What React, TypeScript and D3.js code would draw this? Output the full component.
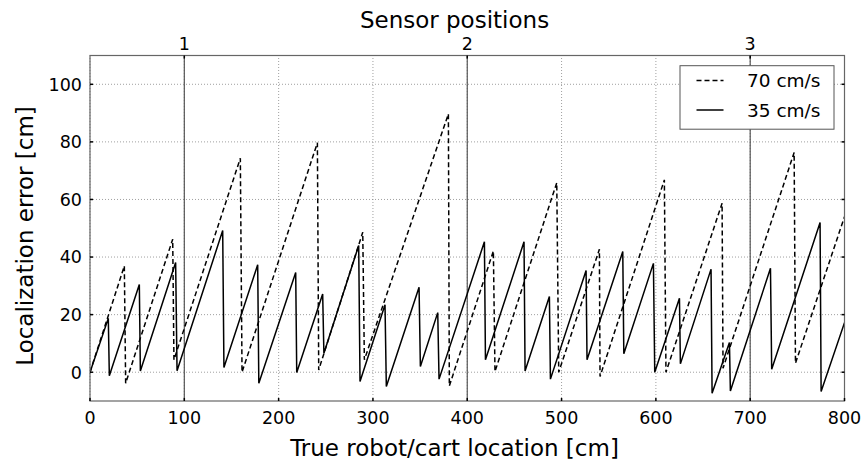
import React, { useEffect, useRef } from 'react';
import * as d3 from 'd3';

// localization error readings, [true location cm, error cm]
const fast70 = [
  [0, 0], [36.4, 36.9], [37.8, -3.8], [87.7, 46.2], [89, 4.3], [159.4, 74.3], [161.2, 0],
  [241.1, 79.7], [242.5, 0.8], [289.2, 48.6], [290.9, 4.3], [380, 89.7], [381, -4.8],
  [427.7, 42.1], [429.4, 0.2], [494.9, 65.8], [497, 0], [540.1, 42.7], [540.8, -1.5],
  [609, 66.8], [610.7, 0], [670.2, 58.7], [671.2, 1.4], [746.6, 76.3], [748, 3.1], [800, 54],
];

const slow35 = [
  [0, 0], [19.4, 18.7], [20.5, -1.2], [52.3, 30.5], [53.4, 0.45], [90.8, 38.1], [92.3, 0.5],
  [140.7, 49.2], [142, 1.6], [177.8, 37.3], [179, -3.8], [218.1, 34.6], [219.2, -0.1],
  [246.7, 27.2], [248, 6.6], [284.9, 44], [286.3, -3.2], [312.8, 23.4], [314.2, -5],
  [348.9, 29.5], [350.3, 2], [368.7, 20.7], [370.1, -2.4], [418.2, 45.3], [419.3, 4.3],
  [460.2, 45.3], [461.3, 0.45], [487.1, 26.3], [488.2, -2.4], [526, 35.3], [527, 4.3],
  [564.9, 41.9], [566, 6.4], [597.4, 37.8], [598.8, 0], [625, 25.7], [626, 2.9],
  [658.5, 35.8], [659.6, -7.3], [678, 10.3], [679, -6.5], [721.5, 36.1], [722.8, 1],
  [774.1, 52], [775.2, -6.7], [800, 17.2],
];

const sensorPositions = [100, 400, 700];
const sensorLabels = ['1', '2', '3'];
const xTicks = [0, 100, 200, 300, 400, 500, 600, 700, 800];
const yTicks = [0, 20, 40, 60, 80, 100];
const legendLabels = ['70 cm/s', '35 cm/s'];

const App = () => {
  const svgRef = useRef<SVGSVGElement>(null);

  useEffect(() => {
    const svg = d3.select(svgRef.current);
    const width = 865;
    const height = 462;
    const margin = { top: 55.5, right: 20.5, bottom: 61, left: 90 };
    const font = 'DejaVu Sans';

    svg.selectAll('*').remove();
    svg.attr('width', width).attr('height', height);

    const x = d3.scaleLinear().domain([0, 800]).range([margin.left, width - margin.right]);
    const y = d3.scaleLinear().domain([-10, 110]).range([height - margin.bottom, margin.top]);

    const line = d3.line<number[]>()
      .x(d => x(d[0]))
      .y(d => y(d[1]));

    svg.append('rect').attr('width', width).attr('height', height).attr('fill', '#fff');

    svg.append('defs').append('clipPath').attr('id', 'plot-clip')
      .append('rect')
      .attr('x', margin.left).attr('y', margin.top)
      .attr('width', width - margin.left - margin.right)
      .attr('height', height - margin.top - margin.bottom);

    // dotted grid
    const grid = svg.append('g').attr('stroke', '#888').attr('stroke-width', 0.8)
      .attr('stroke-dasharray', '1,2');
    xTicks.forEach(t => {
      grid.append('line').attr('x1', x(t)).attr('x2', x(t))
        .attr('y1', y(-10)).attr('y2', y(110));
    });
    yTicks.forEach(t => {
      grid.append('line').attr('x1', x(0)).attr('x2', x(800))
        .attr('y1', y(t)).attr('y2', y(t));
    });

    // sensor lines
    sensorPositions.forEach(s => {
      svg.append('line').attr('x1', x(s)).attr('x2', x(s))
        .attr('y1', y(-10)).attr('y2', y(110))
        .attr('stroke', '#555').attr('stroke-width', 1.2);
    });

    const plot = svg.append('g').attr('clip-path', 'url(#plot-clip)');
    plot.append('path').datum(fast70)
      .attr('fill', 'none').attr('stroke', '#000').attr('stroke-width', 1.5)
      .attr('stroke-dasharray', '5,3')
      .attr('d', line);
    plot.append('path').datum(slow35)
      .attr('fill', 'none').attr('stroke', '#000').attr('stroke-width', 1.5)
      .attr('d', line);

    // frame
    svg.append('rect')
      .attr('x', margin.left).attr('y', margin.top)
      .attr('width', width - margin.left - margin.right)
      .attr('height', height - margin.top - margin.bottom)
      .attr('fill', 'none').attr('stroke', '#666').attr('stroke-width', 1.2);

    // inward tick marks
    const ticks = svg.append('g').attr('stroke', '#000').attr('stroke-width', 1.5);
    xTicks.forEach(t => {
      ticks.append('line').attr('x1', x(t)).attr('x2', x(t))
        .attr('y1', y(-10)).attr('y2', y(-10) - 3);
    });
    sensorPositions.forEach(t => {
      ticks.append('line').attr('x1', x(t)).attr('x2', x(t))
        .attr('y1', y(110)).attr('y2', y(110) + 3);
    });
    yTicks.forEach(t => {
      ticks.append('line').attr('x1', x(0)).attr('x2', x(0) + 3)
        .attr('y1', y(t)).attr('y2', y(t));
      ticks.append('line').attr('x1', x(800)).attr('x2', x(800) - 3)
        .attr('y1', y(t)).attr('y2', y(t));
    });

    const text = svg.append('g').attr('font-family', font).attr('fill', '#000');

    xTicks.forEach(t => {
      text.append('text').attr('x', x(t)).attr('y', 424)
        .attr('text-anchor', 'middle').attr('font-size', 17.5).text(t);
    });
    yTicks.forEach(t => {
      text.append('text').attr('x', 82).attr('y', y(t)).attr('dy', '0.36em')
        .attr('text-anchor', 'end').attr('font-size', 17.5).text(t);
    });
    sensorPositions.forEach((s, i) => {
      text.append('text').attr('x', x(s)).attr('y', 49.5)
        .attr('text-anchor', 'middle').attr('font-size', 17.5).text(sensorLabels[i]);
    });

    text.append('text').attr('x', 454.5).attr('y', 28)
      .attr('text-anchor', 'middle').attr('font-size', 23).text('Sensor positions');
    text.append('text').attr('x', 454.5).attr('y', 455.5)
      .attr('text-anchor', 'middle').attr('font-size', 23).text('True robot/cart location [cm]');
    text.append('text')
      .attr('transform', 'translate(33,236) rotate(-90)')
      .attr('text-anchor', 'middle').attr('font-size', 23).text('Localization error [cm]');

    // legend
    const legend = svg.append('g');
    legend.append('rect').attr('x', 680).attr('y', 65.7).attr('width', 154).attr('height', 63.5)
      .attr('fill', '#fff').attr('stroke', '#555').attr('stroke-width', 1);
    [80.5, 110].forEach((ly, i) => {
      legend.append('line').attr('x1', 696.5).attr('x2', 723.5).attr('y1', ly).attr('y2', ly)
        .attr('stroke', '#000').attr('stroke-width', 1.5)
        .attr('stroke-dasharray', i === 0 ? '5,3' : null);
      legend.append('text').attr('x', 747).attr('y', ly).attr('dy', '0.36em')
        .attr('font-family', font).attr('font-size', 18.5).text(legendLabels[i]);
    });
  }, []);

  return (
    <div style={{ position: 'absolute', left: 0, top: 0 }}>
      <svg ref={svgRef} style={{ display: 'block' }}></svg>
    </div>
  );
};

export default App;
